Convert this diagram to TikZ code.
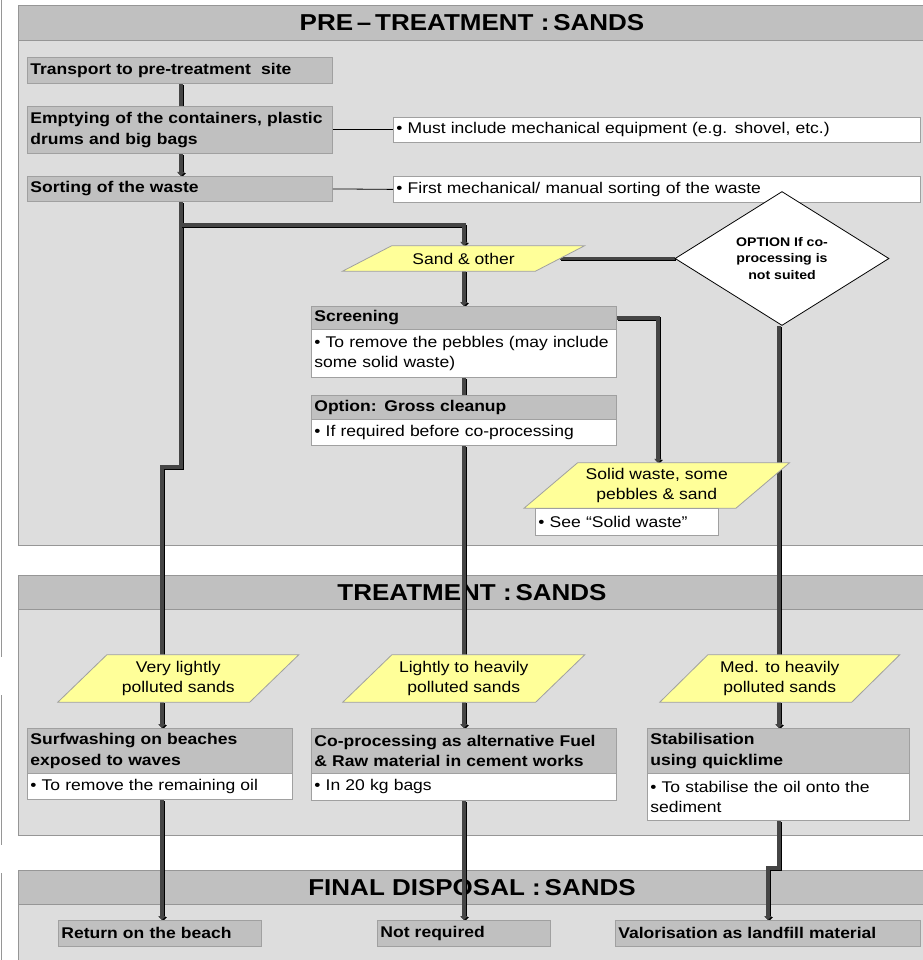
\documentclass[tikz,border=0pt]{standalone}
\usepackage{fontspec}
\setmainfont[FakeStretch=1.13]{Liberation Sans}
\usetikzlibrary{arrows.meta,shapes.geometric,calc}
\pgfdeclarelayer{bg}\pgfdeclarelayer{conn}\pgfdeclarelayer{shp}
\pgfsetlayers{bg,conn,shp,main}
\definecolor{panelbg}{HTML}{DDDDDD}
\definecolor{hdr}{HTML}{C0C0C0}
\definecolor{pborder}{HTML}{969696}
\definecolor{bborder}{HTML}{A0A0A0}
\definecolor{yel}{HTML}{FFFF99}
\definecolor{flowgray}{HTML}{454545}
\begin{document}
\begin{tikzpicture}[x=1pt,y=-1pt,
  panelbody/.style={draw=pborder, fill=panelbg, line width=1pt, anchor=north west, inner sep=0pt, minimum width=907pt},
  panelhead/.style={draw=pborder, fill=hdr, line width=1pt, anchor=north west, inner sep=0pt, minimum width=907pt, font=\fontsize{23}{27}\selectfont\bfseries},
  hbox/.style={draw=bborder, fill=hdr, line width=0.8pt, anchor=north west, inner xsep=3pt, inner ysep=0pt, align=left, font=\fontsize{15.5}{20.5}\selectfont\bfseries},
  wbox/.style={hbox, fill=white, font=\fontsize{15.5}{20.5}\selectfont},
  ptext/.style={inner sep=0pt, align=center, font=\fontsize{15.5}{20.5}\selectfont},
  para/.style={draw=bborder, fill=yel, line width=0.8pt},
  flow/.style={line width=3.2pt, draw=flowgray, preaction={draw=black, line width=3.2pt, transform canvas={xshift=1.1pt, yshift=-1.1pt}}},
  tip/.style={-{Triangle[length=4pt,width=7.5pt]}},
  link/.style={draw=black, line width=0.8pt}
]
\useasboundingbox (0,0) rectangle (922,960);

% ---------- panels ----------
\begin{pgfonlayer}{bg}
\fill[white] (0,0) rectangle (922,960);
\draw[pborder, line width=1.5pt] (1.5,0) -- (1.5,657);
\draw[pborder, line width=1.5pt] (1.5,695) -- (1.5,845);
\draw[pborder, line width=1.5pt] (1.5,873) -- (1.5,960);
\node[panelbody, minimum height=540pt] (p1) at (18,5) {};
\node[panelhead, minimum height=35pt] (h1) at (18,5) {PRE\,–\,TREATMENT\ :\,SANDS};
\node[panelbody, minimum height=260pt] (p2) at (18,575) {};
\node[panelhead, minimum height=34pt] (h2) at (18,575) {TREATMENT\ :\,SANDS};
\node[panelbody, minimum height=100pt] (p3) at (18,870) {};
\node[panelhead, minimum height=34pt] (h3) at (18,870) {FINAL DISPOSAL\ :\,SANDS};
\end{pgfonlayer}

% ---------- boxes ----------
\node[hbox, minimum width=305pt, minimum height=26pt, text width=299pt] (trans) at (27,57) {Transport to pre-treatment\ \ site};
\node[hbox, minimum width=305pt, minimum height=47pt, text width=299pt] (empt) at (27,106) {Emptying of the containers, plastic\\drums and big bags};
\node[hbox, minimum width=305pt, minimum height=25pt, text width=299pt] (sort) at (27,176) {Sorting of the waste};
\node[wbox, minimum width=527pt, minimum height=25pt, text width=521pt] (must) at (393,117) {• Must include mechanical equipment (e.g. shovel, etc.)};
\node[wbox, minimum width=527pt, minimum height=26pt, text width=521pt] (first) at (393,176) {• First mechanical/ manual sorting of the waste};

\node[hbox, minimum width=305pt, minimum height=23pt, text width=299pt] (scrH) at (311,306) {Screening};
\node[wbox, minimum width=305pt, minimum height=48pt, text width=299pt] (scrB) at (311,329) {• To remove the pebbles (may include\\some solid waste)};
\node[hbox, minimum width=305pt, minimum height=24pt, text width=299pt] (gcH) at (311,395) {Option: Gross cleanup};
\node[wbox, minimum width=305pt, minimum height=26pt, text width=299pt] (gcB) at (311,419) {• If required before co-processing};
\node[wbox, minimum width=183pt, minimum height=27pt, text width=177pt] (see) at (535,508) {• See “Solid waste”};

\node[hbox, minimum width=265pt, minimum height=45pt, text width=259pt] (surfH) at (27,728) {Surfwashing on beaches\\exposed to waves};
\node[wbox, minimum width=265pt, minimum height=26pt, text width=259pt] (surfB) at (27,773) {• To remove the remaining oil};
\node[hbox, minimum width=305pt, minimum height=45pt, text width=299pt] (coH) at (311,728) {Co-processing as alternative Fuel\\\& Raw material in cement works};
\node[wbox, minimum width=305pt, minimum height=27pt, text width=299pt] (coB) at (311,773) {• In 20 kg bags};
\node[hbox, minimum width=262pt, minimum height=45pt, text width=256pt] (stabH) at (647,728) {Stabilisation\\using quicklime};
\node[wbox, minimum width=262pt, minimum height=47pt, text width=256pt] (stabB) at (647,773) {• To stabilise the oil onto the\\sediment};

\node[hbox, minimum width=203pt, minimum height=26pt, text width=197pt] (ret) at (58,920) {Return on the beach};
\node[hbox, minimum width=173pt, minimum height=26pt, text width=167pt] (notreq) at (377,920) {Not required};
\node[hbox, minimum width=305pt, minimum height=26pt, text width=299pt] (valo) at (615,920) {Valorisation as landfill material};

% ---------- parallelograms ----------
\node[ptext, minimum width=192.5pt, minimum height=25pt] (sand) at (463.5,258.5) {Sand \& other};
\node[ptext, minimum width=211.5pt, minimum height=45pt] (solid) at (656.75,485.5) {Solid waste, some\\pebbles \& sand};
\node[ptext, minimum width=191.5pt, minimum height=47pt] (very) at (178.25,678.5) {Very lightly\\polluted sands};
\node[ptext, minimum width=192.5pt, minimum height=47pt] (light) at (463.75,678.5) {Lightly to heavily\\polluted sands};
\node[ptext, minimum width=191.5pt, minimum height=47pt] (med) at (779.75,678.5) {Med. to heavily\\polluted sands};
\begin{pgfonlayer}{shp}
\foreach \n/\d in {sand/49, solid/53.5, very/49, light/49, med/48}{
  \draw[para] ($(\n.south west)+(-\d/2,0)$) -- ($(\n.north west)+(\d/2,0)$) -- ($(\n.north east)+(\d/2,0)$) -- ($(\n.south east)+(-\d/2,0)$) -- cycle;
}
\end{pgfonlayer}

% ---------- decision ----------
\node[diamond, draw=black, line width=0.8pt, fill=white, minimum width=214pt, minimum height=101pt, inner sep=0pt, align=center, font=\fontsize{12.5}{16.5}\selectfont\bfseries] (dia) at (782,258.5) {OPTION If co-\\processing is\\not suited};

% ---------- connectors ----------
\coordinate (xL) at (181,0);
\coordinate (xA) at (162,0);
\coordinate (xM) at (464,0);
\coordinate (xR) at (779,0);
\coordinate (xS) at (658,0);
\coordinate (xV) at (768,0);
\coordinate (br) at (181,225);
\coordinate (jog1) at (181,467);
\coordinate (jog2) at (162,467);
\coordinate (jogR) at (779,868);

\draw[link] (empt.east) -- (must.west);
\draw[link] (sort.east) -- (first.west);

\begin{pgfonlayer}{conn}
\draw[flow] (trans.south -| xL) -- (empt.north -| xL);
\draw[flow,tip] (empt.south -| xL) -- (sort.north -| xL);
\draw[flow] (sort.south -| xL) -- (jog1) -- (jog2) -- (very.north -| xA);
\draw[flow,tip] (very.south -| xA) -- (surfH.north -| xA);
\draw[flow,tip] (surfB.south -| xA) -- (ret.north -| xA);
\draw[flow,tip] (br) -- (br -| xM) -- (sand.north -| xM);
\draw[flow,tip] (sand.south -| xM) -- (scrH.north -| xM);
\draw[flow] (sand.east) -- (dia.west);
\draw[flow] (scrB.south -| xM) -- (gcH.north -| xM);
\draw[flow] (gcB.south -| xM) -- (light.north -| xM);
\draw[flow,tip] (light.south -| xM) -- (coH.north -| xM);
\draw[flow,tip] (coB.south -| xM) -- (notreq.north -| xM);
\draw[flow,tip] (scrH.east) -- (scrH.east -| xS) -- (solid.north -| xS);
\draw[flow] (dia.south -| xR) -- (med.north -| xR);
\draw[flow,tip] (med.south -| xR) -- (stabH.north -| xR);
\draw[flow,tip] (stabB.south -| xR) -- (jogR) -- (jogR -| xV) -- (valo.north -| xV);
\end{pgfonlayer}
\end{tikzpicture}
\end{document}
